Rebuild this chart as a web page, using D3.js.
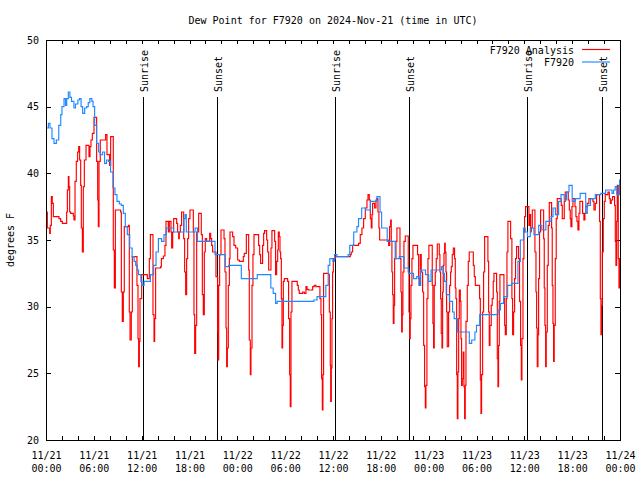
<!DOCTYPE html>
<html><head><meta charset="utf-8">
<script src="https://cdn.jsdelivr.net/npm/d3@7/dist/d3.min.js"></script>
<style>
body{margin:0;background:#fff}
svg{display:block}
text{font-family:"DejaVu Sans Mono","Liberation Mono",monospace;font-size:10px;fill:#000}
</style>
</head><body>
<svg id="chart" width="640" height="480"></svg>
<script>
// ---------- data (hours after 2024-11-21 00:00 UTC, dew point °F) ----------
const titleText = "Dew Point for F7920 on 2024-Nov-21 (time in UTC)";
const seriesNames = ["F7920 Analysis", "F7920"];
const yTickValues = [20, 25, 30, 35, 40, 45, 50];
const eventLabels = ["Sunrise", "Sunset", "Sunrise", "Sunset", "Sunrise", "Sunset"];
const eventHours = [12.2, 21.5, 36.28, 45.55, 60.3, 69.7];

const analysisSeries = [[0,37.1],[0.17,35.9],[0.46,35.5],[0.54,36.1],[0.67,38.25],[0.79,37.75],[0.92,36.75],[1.63,36.6],[1.84,36.4],[2.05,36.25],[2.59,37.1],[2.68,38.75],[2.80,39.75],[2.88,39.0],[2.97,37.1],[3.09,37.0],[3.43,36.8],[3.51,36.5],[3.64,39.4],[3.80,40.9],[3.97,41.6],[4.10,42.0],[4.22,41.0],[4.35,39.1],[4.43,35.9],[4.56,34.1],[4.68,39.0],[4.81,41.0],[5.02,42.1],[5.39,41.25],[5.52,42.0],[5.64,42.5],[5.81,43.0],[6.02,44.2],[6.35,40.9],[6.48,38.0],[6.56,36.0],[6.65,40.9],[6.81,42.5],[7.48,42.9],[7.65,41.4],[7.98,40.6],[8.11,42.75],[8.44,34.25],[8.57,31.4],[8.70,37.25],[9.36,37.1],[9.45,31.1],[9.57,28.9],[9.70,31.1],[9.82,36.0],[10.33,36.1],[10.45,29.6],[10.54,27.5],[10.70,29.6],[10.83,33.75],[11.41,31.6],[11.54,27.6],[11.62,25.5],[11.71,27.4],[11.79,30.6],[12.0,32.4],[12.71,32.1],[12.96,33.6],[13.09,35.4],[13.42,29.4],[13.55,27.4],[13.63,29.1],[13.75,32.9],[14.38,33.0],[14.47,33.6],[14.72,33.8],[14.92,34.6],[15.05,36.4],[15.34,35.6],[15.47,36.4],[15.68,35.6],[15.76,34.4],[15.89,35.6],[16.01,36.6],[16.39,36.25],[16.51,35.6],[16.64,35.1],[16.72,35.6],[16.85,36.1],[17.01,37.1],[17.27,35.1],[17.39,32.6],[17.52,30.9],[17.64,33.6],[17.77,35.1],[17.89,36.6],[18.06,37.25],[18.48,35.6],[18.56,29.4],[18.65,26.5],[18.77,28.6],[18.90,35.6],[19.15,37.0],[19.48,35.4],[19.61,30.9],[19.73,29.4],[19.86,34.1],[19.98,35.1],[20.15,34.9],[20.53,35.5],[20.65,35.1],[20.78,34.6],[20.90,34.1],[21.32,32.25],[21.53,28.1],[21.57,26.0],[21.66,31.6],[21.78,33.9],[21.95,35.75],[22.33,35.1],[22.45,32.6],[22.58,28.4],[22.66,25.5],[22.75,26.9],[22.87,31.6],[23.0,33.6],[23.08,35.6],[23.41,35.25],[23.58,34.6],[23.79,34.4],[24.04,33.5],[24.25,33.4],[24.75,33.75],[24.87,34.0],[25.13,35.4],[25.42,32.75],[25.5,27.5],[25.63,24.9],[25.71,26.9],[25.84,31.6],[25.96,33.9],[26.09,35.4],[26.67,34.6],[26.8,33.9],[26.92,33.25],[27.17,34.6],[27.30,35.5],[27.42,35.7],[27.68,35.0],[27.80,34.1],[27.93,32.75],[28.22,34.4],[28.34,35.7],[28.68,34.9],[28.8,32.4],[28.93,33.4],[29.06,34.25],[29.14,35.6],[29.26,35.25],[29.35,34.1],[29.43,33.6],[29.52,30.6],[29.6,26.9],[29.68,28.6],[29.77,31.9],[29.89,32.1],[30.31,31.9],[30.43,29.1],[30.56,24.9],[30.64,22.5],[30.73,29.6],[30.85,31.9],[31.52,31.6],[31.65,31.25],[31.77,31.0],[32.19,31.1],[32.4,31.0],[32.61,31.5],[32.74,31.3],[32.9,31.25],[33.45,31.5],[33.65,31.6],[33.86,31.5],[34.36,30.6],[34.49,29.4],[34.57,24.6],[34.66,22.25],[34.74,24.9],[34.82,32.5],[35.45,32.4],[35.54,29.6],[35.66,25.6],[35.71,22.9],[35.79,25.4],[35.87,29.1],[35.95,32.6],[36.04,33.6],[36.29,33.75],[38.17,33.9],[38.29,34.1],[38.46,34.6],[39.21,34.75],[39.42,35.4],[39.63,35.9],[39.84,36.6],[40.05,37.4],[40.26,38.0],[40.39,38.4],[40.55,38.0],[40.68,36.6],[40.80,35.9],[40.89,36.9],[40.97,37.75],[41.22,37.4],[41.39,38.0],[41.51,38.1],[41.64,37.1],[41.76,35.9],[41.85,35.0],[42.98,34.6],[43.1,36.0],[43.23,36.5],[43.31,34.9],[43.39,32.6],[43.48,30.9],[43.56,28.75],[43.65,30.1],[43.73,33.6],[43.90,34.9],[44.02,35.9],[44.40,33.6],[44.52,31.1],[44.61,28.1],[44.69,29.4],[44.77,32.6],[44.90,34.9],[45.07,35.3],[45.44,32.6],[45.53,29.6],[45.61,27.6],[45.69,29.1],[45.78,31.6],[45.90,33.6],[46.03,34.6],[46.61,33.9],[46.74,32.1],[46.82,31.6],[46.95,33.9],[47.07,32.6],[47.24,31.1],[47.37,27.1],[47.49,24.0],[47.58,22.4],[47.66,24.1],[47.78,30.6],[47.91,33.6],[48.03,34.6],[48.45,31.6],[48.53,28.75],[48.62,26.9],[48.70,31.6],[48.83,32.6],[48.95,33.6],[49.08,34.7],[49.33,33.9],[49.41,32.6],[49.5,30.6],[49.58,28.0],[49.67,26.9],[49.75,31.1],[49.83,33.1],[49.92,34.0],[50.0,34.75],[50.08,34.1],[50.17,32.6],[50.25,29.6],[50.33,27.0],[50.50,29.6],[50.63,31.6],[50.75,32.6],[50.84,33.0],[50.96,33.9],[51.09,34.4],[51.25,33.6],[51.34,31.4],[51.42,30.6],[51.51,24.9],[51.59,21.6],[51.67,25.1],[51.76,29.1],[51.84,31.25],[51.97,30.4],[52.05,27.6],[52.13,24.1],[52.22,24.6],[52.34,26.6],[52.42,24.0],[52.51,21.6],[52.59,24.1],[52.68,28.9],[52.84,31.6],[52.97,33.4],[53.09,34.1],[53.60,33.1],[53.72,32.25],[53.85,31.6],[54.39,30.6],[54.48,24.5],[54.56,22.0],[54.64,24.9],[54.77,29.6],[54.89,32.6],[55.02,35.25],[55.43,33.4],[55.52,29.6],[55.60,27.1],[55.69,28.6],[55.85,30.1],[55.97,30.6],[56.10,31.9],[56.19,32.5],[56.52,31.1],[56.61,26.1],[56.69,24.0],[56.77,27.1],[56.86,30.4],[56.94,32.4],[57.44,30.6],[57.53,28.6],[57.61,27.9],[57.74,30.6],[57.82,34.1],[57.94,36.4],[58.28,35.1],[58.44,30.6],[58.53,27.9],[58.65,29.6],[58.78,32.1],[58.90,33.6],[59.03,34.5],[59.28,33.6],[59.40,30.4],[59.53,27.1],[59.62,24.5],[59.70,27.6],[59.83,33.6],[59.95,35.6],[60.03,36.75],[60.16,37.5],[60.58,36.1],[60.70,36.9],[60.79,35.6],[60.87,35.9],[61.0,37.25],[61.33,34.1],[61.46,31.1],[61.54,28.4],[61.62,25.5],[61.71,27.9],[61.79,32.1],[61.91,35.6],[62.04,37.25],[62.42,35.1],[62.50,31.4],[62.58,28.6],[62.67,25.5],[62.75,28.1],[62.88,33.1],[63.0,36.1],[63.13,37.8],[63.42,35.9],[63.50,31.6],[63.59,28.75],[63.67,25.9],[63.75,28.6],[63.88,33.6],[64.0,36.6],[64.13,38.1],[64.63,37.6],[64.76,36.6],[65.01,37.9],[65.13,38.6],[65.51,38.0],[65.64,37.25],[65.76,36.6],[65.84,36.0],[65.97,37.5],[66.10,38.1],[66.35,37.5],[66.47,36.75],[66.60,36.4],[66.72,35.75],[66.85,37.0],[66.97,37.9],[67.31,37.0],[67.47,36.5],[67.60,37.0],[67.72,37.5],[67.89,37.75],[68.10,38.1],[68.60,37.9],[68.73,37.25],[68.90,37.75],[69.06,38.4],[69.44,36.4],[69.53,30.6],[69.61,27.9],[69.70,30.1],[69.78,34.1],[69.90,36.6],[70.03,37.9],[70.15,38.4],[70.49,38.6],[70.66,38.1],[70.78,37.75],[70.90,38.0],[71.07,38.25],[71.32,37.6],[71.41,34.9],[71.49,33.1],[71.58,36.4],[71.66,39.1],[71.78,33.6],[71.87,31.4],[71.95,33.6]];

const observedSeries = [[0,43.4],[0.3,43.75],[0.5,43.4],[0.75,42.6],[1.0,42.25],[1.3,42.5],[1.6,43.6],[1.85,44.4],[2.0,45.0],[2.26,45.6],[2.45,45.1],[2.6,45.6],[2.8,46.1],[3.0,45.7],[3.2,45.4],[3.5,44.9],[3.7,45.2],[4.0,45.5],[4.2,45.6],[4.4,45.0],[4.6,44.5],[4.85,44.9],[5.1,45.0],[5.3,45.3],[5.5,45.6],[5.75,45.4],[5.9,45.0],[6.1,43.6],[6.35,42.25],[6.6,41.6],[6.8,41.4],[7.1,41.6],[7.35,40.75],[7.6,41.0],[7.85,40.9],[8.1,40.1],[8.4,38.9],[8.65,38.4],[8.9,37.9],[9.2,37.7],[9.45,37.6],[9.7,37.0],[9.95,36.0],[10.2,35.4],[10.5,34.4],[10.8,33.75],[11.05,33.4],[11.25,33.1],[11.45,32.75],[11.6,32.4],[11.9,31.9],[12.05,31.6],[12.3,31.9],[12.7,31.9],[13.1,32.4],[13.5,33.1],[13.8,34.1],[14.1,35.1],[14.5,34.9],[14.8,35.4],[15.1,35.9],[15.5,35.9],[16.0,35.6],[17.0,35.6],[17.3,36.6],[17.45,36.9],[17.6,35.6],[18.4,35.6],[18.7,35.9],[19.0,34.9],[21.0,34.9],[21.2,33.9],[22.1,33.9],[22.5,33.0],[22.9,33.1],[24.0,33.1],[24.5,32.1],[26.4,32.1],[26.5,32.4],[28.0,32.4],[28.2,31.4],[28.5,31.0],[28.8,30.25],[29.0,30.4],[33.4,30.4],[33.6,30.5],[34.0,30.75],[34.8,30.75],[35.1,31.6],[35.4,33.1],[35.6,33.6],[36.0,33.4],[36.2,33.9],[36.5,33.75],[37.9,33.9],[38.1,34.6],[38.6,35.6],[39.0,36.0],[39.2,36.6],[39.6,37.4],[40.1,37.25],[40.7,37.9],[41.5,38.25],[41.9,37.1],[42.1,35.9],[42.8,34.9],[43.4,34.9],[43.8,33.6],[44.3,33.75],[44.9,32.9],[45.5,32.5],[46.1,32.1],[46.5,32.25],[46.8,31.6],[47.0,32.75],[47.6,32.4],[48.0,31.9],[48.3,32.75],[49.4,32.75],[49.6,33.0],[49.8,32.5],[50.0,31.9],[50.2,30.9],[50.6,30.4],[51.0,29.6],[51.2,29.1],[51.6,28.1],[52.7,28.1],[53.1,27.25],[53.4,27.5],[53.8,28.1],[54.0,28.6],[54.4,29.4],[56.5,29.4],[56.7,29.75],[57.0,30.25],[57.4,30.75],[57.9,31.6],[58.4,31.75],[59.0,31.75],[59.2,33.4],[59.5,35.0],[59.9,35.9],[60.1,35.6],[60.4,35.25],[60.75,35.9],[61.2,35.4],[61.6,35.4],[61.8,36.1],[62.2,35.75],[62.7,36.4],[63.1,36.4],[63.35,36.75],[63.6,37.4],[63.9,36.9],[64.3,37.9],[64.6,38.4],[65.0,38.0],[65.3,38.6],[65.6,39.1],[66.0,37.9],[66.4,38.1],[67.0,38.5],[67.4,38.5],[67.7,37.0],[67.9,37.6],[68.3,38.1],[68.9,38.4],[69.6,38.5],[70.2,38.75],[70.6,38.75],[71.0,38.5],[71.2,38.75],[71.4,39.0],[71.6,38.4],[71.95,39.5]];

// ---------- chart ----------
const startMs = Date.UTC(2024, 10, 21, 0, 0);
const HOUR = 3600 * 1000;
const toDate = h => new Date(startMs + h * HOUR);

const svg = d3.select("#chart");
const L = 46, R = 620, T = 40, B = 440;

const x = d3.scaleUtc().domain([toDate(0), toDate(72)]).range([L, R]);
const y = d3.scaleLinear().domain([20, 50]).range([B, T]);

svg.append("rect").attr("width", 640).attr("height", 480).attr("fill", "#fff");

// title
svg.append("text").attr("x", 333).attr("y", 20).attr("dy", "0.35em")
  .attr("text-anchor", "middle").text(titleText);

// y label
svg.append("text").attr("transform", "translate(10,240) rotate(-90)")
  .attr("text-anchor", "middle").attr("dy", "0.35em").text("degrees F");

const fmtDate = d3.utcFormat("%m/%d"), fmtTime = d3.utcFormat("%H:%M");
const minorTicks = d3.utcHour.every(2).range(toDate(0), toDate(72.01));
const majorTicks = d3.utcHour.every(6).range(toDate(0), toDate(72.01));

// bottom axis
const gx = svg.append("g").attr("transform", `translate(0,${B})`)
  .call(d3.axisBottom(x).tickValues(minorTicks).tickSizeInner(-4).tickSizeOuter(0).tickFormat(() => ""));
gx.select(".domain").remove();
gx.selectAll(".tick line").attr("stroke", "#000").attr("shape-rendering", "crispEdges");
const gxl = svg.append("g").attr("transform", `translate(0,${B})`)
  .call(d3.axisBottom(x).tickValues(majorTicks).tickSize(0).tickFormat(() => ""));
gxl.select(".domain").remove();
gxl.selectAll(".tick text").each(function(d) {
  const t = d3.select(this).attr("y", null).attr("dy", null);
  t.append("tspan").attr("x", 0).attr("y", 18.6).text(fmtDate(d));
  t.append("tspan").attr("x", 0).attr("y", 31.6).text(fmtTime(d));
});

// top mirror ticks
const gt = svg.append("g").attr("transform", `translate(0,${T})`)
  .call(d3.axisTop(x).tickValues(minorTicks).tickSizeInner(-4).tickSizeOuter(0).tickFormat(() => ""));
gt.select(".domain").remove();
gt.selectAll(".tick line").attr("shape-rendering", "crispEdges");

// left axis
const gy = svg.append("g").attr("transform", `translate(${L},0)`)
  .call(d3.axisLeft(y).tickValues(yTickValues).tickSizeInner(-5).tickSizeOuter(0).tickPadding(7));
gy.select(".domain").remove();
gy.selectAll(".tick line").attr("shape-rendering", "crispEdges");
[gx, gxl, gy].forEach(g => g.attr("font-family", null).attr("font-size", null));

// right mirror ticks
const gr = svg.append("g").attr("transform", `translate(${R},0)`)
  .call(d3.axisRight(y).tickValues(yTickValues).tickSizeInner(-5).tickSizeOuter(0).tickFormat(() => ""));
gr.select(".domain").remove();
gr.selectAll(".tick line").attr("shape-rendering", "crispEdges");

// sunrise / sunset markers
const ev = svg.append("g");
eventHours.forEach((h, i) => {
  const ex = Math.round(x(toDate(h))) + 0.5;
  ev.append("line").attr("x1", ex).attr("x2", ex).attr("y1", 97).attr("y2", B)
    .attr("stroke", "#000").attr("stroke-width", 1);
  ev.append("text").attr("transform", `translate(${ex + 1},92) rotate(-90)`)
    .attr("dy", "0.35em").attr("text-anchor", "start").text(eventLabels[i]);
});

// series
const line = d3.line().x(d => x(toDate(d[0]))).y(d => y(d[1])).curve(d3.curveStepAfter);
svg.append("clipPath").attr("id", "clip").append("rect")
  .attr("x", L).attr("y", T).attr("width", R - L).attr("height", B - T);
svg.append("path").datum(analysisSeries.concat([[72, analysisSeries[analysisSeries.length-1][1]]]))
  .attr("d", line).attr("fill", "none").attr("stroke", "#ff0000").attr("stroke-width", 1.15)
  .attr("clip-path", "url(#clip)");
svg.append("path").datum(observedSeries.concat([[72, observedSeries[observedSeries.length-1][1]]]))
  .attr("d", line).attr("fill", "none").attr("stroke", "#1e88ff").attr("stroke-width", 1.15)
  .attr("clip-path", "url(#clip)");

// border
svg.append("rect").attr("x", L + 0.5).attr("y", T + 0.5).attr("width", R - L).attr("height", B - T)
  .attr("fill", "none").attr("stroke", "#000").attr("stroke-width", 1).attr("shape-rendering", "crispEdges");

// legend
const legendColors = ["#ff0000", "#1e88ff"];
seriesNames.forEach((n, i) => {
  const ly = 50 + i * 12.5;
  svg.append("text").attr("x", 574).attr("y", ly).attr("dy", "0.35em").attr("text-anchor", "end").text(n);
  svg.append("line").attr("x1", 582).attr("x2", 610).attr("y1", ly - 0.5).attr("y2", ly - 0.5)
    .attr("stroke", legendColors[i]).attr("stroke-width", 1.15);
});
</script>
</body></html>
